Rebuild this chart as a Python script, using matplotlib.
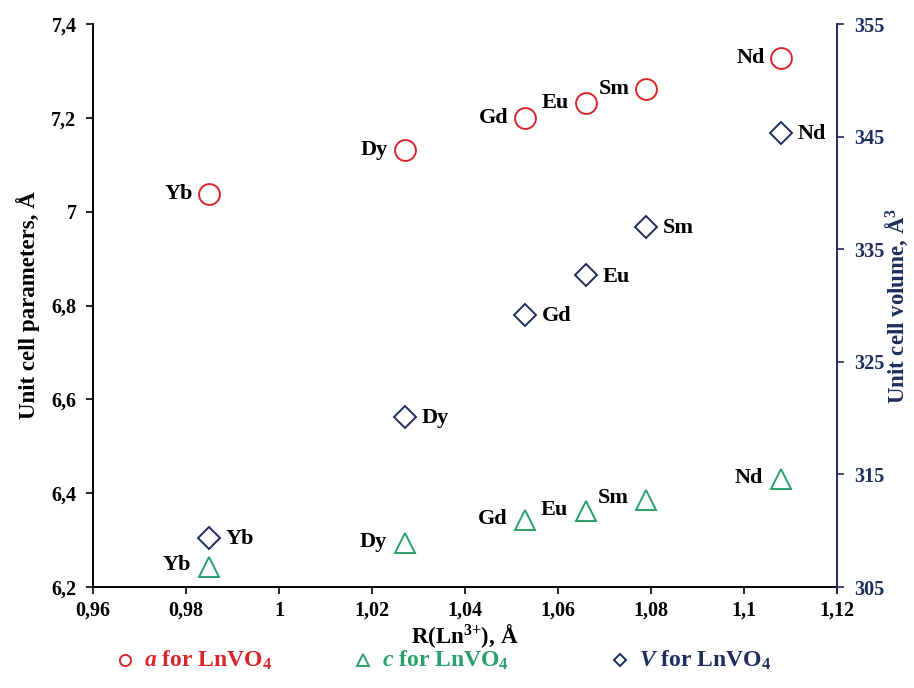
import matplotlib.pyplot as plt
from matplotlib.lines import Line2D
from matplotlib.ticker import FuncFormatter

plt.rcParams['font.family'] = ['Liberation Serif', 'DejaVu Serif']
plt.rcParams['font.weight'] = 'bold'
plt.rcParams['mathtext.fontset'] = 'custom'
plt.rcParams['mathtext.rm'] = 'Liberation Serif:bold'
plt.rcParams['mathtext.it'] = 'Liberation Serif:bold:italic'
plt.rcParams['mathtext.bf'] = 'Liberation Serif:bold'

# Lanthanide ionic radii and lattice parameters of LnVO4
elements = ["Yb", "Dy", "Gd", "Eu", "Sm", "Nd"]
radius = [0.985, 1.027, 1.053, 1.066, 1.079, 1.108]
a_param = [7.038, 7.131, 7.200, 7.232, 7.261, 7.328]
c_param = [6.243, 6.294, 6.343, 6.362, 6.386, 6.430]
volume = [309.35, 320.1, 329.16, 332.7, 336.97, 345.32]

red = "#d9262b"
green = "#2aa06a"
navy = "#1d2d5c"

fig = plt.figure(figsize=(9.14, 6.88), dpi=100)
ax = fig.add_axes([0.1018, 0.1468, 0.814, 0.8182])
ax2 = ax.twinx()

ax.plot(radius, a_param, "o", ms=15, mfc="none", mec=red, mew=1.4, ls="none")
ax.plot(radius, c_param, "^", ms=15, mfc="none", mec=green, mew=1.4, ls="none")
ax2.plot(radius, volume, "D", ms=11, mfc="none", mec=navy, mew=1.4, ls="none")

for x, ya, yc, v, el in zip(radius, a_param, c_param, volume, elements):
    ax.annotate(el, (x, ya), xytext=(-12, 0), textcoords="offset points",
                ha="right", va="center", fontsize=16, fontweight="bold")
    ax.annotate(el, (x, yc), xytext=(-13, 1), textcoords="offset points",
                ha="right", va="center", fontsize=16, fontweight="bold")
    ax2.annotate(el, (x, v), xytext=(12, -1), textcoords="offset points",
                 ha="left", va="center", fontsize=16, fontweight="bold")

ax.set_xlim(0.96, 1.12)
ax.set_ylim(6.2, 7.4)
ax2.set_ylim(305, 355)
ax.set_xticks([0.96, 0.98, 1.0, 1.02, 1.04, 1.06, 1.08, 1.1, 1.12])
ax.set_yticks([6.2, 6.4, 6.6, 6.8, 7.0, 7.2, 7.4])
ax2.set_yticks([305, 315, 325, 335, 345, 355])

comma = FuncFormatter(lambda v, p: ("%g" % round(v, 4)).replace(".", ","))
ax.xaxis.set_major_formatter(comma)
ax.yaxis.set_major_formatter(comma)

ax.spines["top"].set_visible(False)
ax2.spines["top"].set_visible(False)
ax2.spines["left"].set_visible(False)
ax2.spines["bottom"].set_visible(False)
ax.spines["right"].set_visible(False)
ax2.spines["right"].set_color(navy)
ax2.spines["right"].set_linewidth(1.4)
ax.spines["left"].set_linewidth(1.4)
ax.spines["bottom"].set_linewidth(1.4)

ax.tick_params(axis="y", direction="out", length=5, width=1.2, labelsize=14.5, pad=7)
ax.tick_params(axis="x", direction="out", length=5, width=1.2, labelsize=14.5, pad=5)
ax2.tick_params(axis="y", direction="out", length=5, width=1.2, labelsize=14.5,
                colors=navy, pad=7)

ax.set_xlabel(r"R(Ln$^{3{+}}$), Å", fontsize=16.5, fontweight="bold", labelpad=0.5)
ax.set_ylabel("Unit cell parameters, Å", fontsize=16.5, fontweight="bold", labelpad=8)
ax2.set_ylabel(r"Unit cell volume, Å$^{3}$", fontsize=16.5, fontweight="bold",
               color=navy, labelpad=0)

# Legend row below the x axis
legend_items = [
    ("o", 8, red, r"$\mathit{a}$ for LnVO$_4$", 0.137),
    ("^", 8, green, r"$\mathit{c}$ for LnVO$_4$", 0.397),
    ("D", 6, navy, r"$\mathit{V}$ for LnVO$_4$", 0.678),
]
for marker, ms, color, label, xpos in legend_items:
    fig.add_artist(Line2D([xpos], [0.040], transform=fig.transFigure, marker=marker,
                          ms=ms, mfc="none", mec=color, mew=1.4, ls="none"))
    fig.text(xpos + 0.021, 0.040, label, color=color, fontsize=17,
             fontweight="bold", ha="left", va="center")

fig.savefig("out.png", dpi=100)
